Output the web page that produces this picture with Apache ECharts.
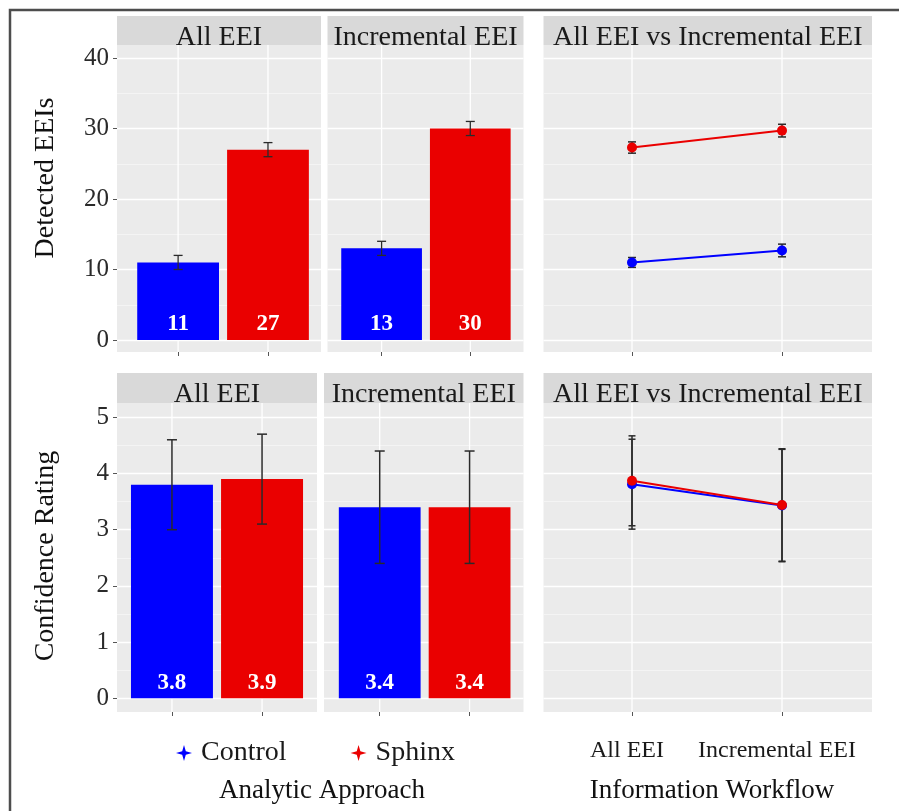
<!DOCTYPE html>
<html><head><meta charset="utf-8">
<script src="https://cdn.jsdelivr.net/npm/echarts@6.0.0/dist/echarts.min.js"></script>
<style>html,body{margin:0;padding:0;background:#fff}#chart{width:899px;height:811px}</style>
</head><body><div id="chart"></div>
<script>
// ---------------- data ----------------
const groups = ['Control', 'Sphinx'];
const workflows = ['All EEI', 'Incremental EEI'];
const panelTitles = ['All EEI', 'Incremental EEI', 'All EEI vs Incremental EEI'];
const rowTitles = ['Detected EEIs', 'Confidence Rating'];
const xTitles = ['Analytic Approach', 'Information Workflow'];
const detectedTicks = [0, 10, 20, 30, 40];
const confidenceTicks = [0, 1, 2, 3, 4, 5];

// Detected EEIs (bars: [Control, Sphinx])
const detectedAllEEI = [11, 27];
const detectedAllEEIErr = [1, 1];
const detectedIncrementalEEI = [13, 30];
const detectedIncrementalEEIErr = [1, 1];
// Detected EEIs by workflow (lines: [All EEI, Incremental EEI])
const detectedControlWorkflow = [11.0, 12.7];
const detectedControlWorkflowErr = [0.7, 0.9];
const detectedSphinxWorkflow = [27.3, 29.7];
const detectedSphinxWorkflowErr = [0.8, 0.9];

// Confidence Rating
const confidenceAllEEI = [3.8, 3.9];
const confidenceAllEEIErr = [0.8, 0.8];
const confidenceIncrementalEEI = [3.4, 3.4];
const confidenceIncrementalEEIErr = [1.0, 1.0];
const confidenceControlWorkflow = [3.81, 3.43];
const confidenceControlWorkflowErr = [0.8, 1.0];
const confidenceSphinxWorkflow = [3.87, 3.44];
const confidenceSphinxWorkflowErr = [0.8, 1.0];

// ---------------- layout / style ----------------
const FONT = '"Liberation Serif", "Times New Roman", serif';
const COLORS = { Control: '#0000FF', Sphinx: '#EA0000' };
const rows = [
  { strip: [16, 45], panel: [45, 352], data: [58, 340], ticks: detectedTicks, cap: 4.5, errW: 1.3, lineCap: 4, digits: 0 },
  { strip: [373, 403], panel: [403, 712], data: [417.3, 698.3], ticks: confidenceTicks, cap: 5, errW: 1.5, lineCap: 3.5, digits: 1 }
];
const cols = [
  [{ x: [117, 321], xr: [0.32, 2.59] }, { x: [327.5, 523.5], xr: [0.39, 2.6] }, { x: [543.5, 872], xr: [0.41, 2.6] }],
  [{ x: [117, 317], xr: [0.39, 2.61] }, { x: [324, 523.5], xr: [0.38, 2.6] }, { x: [543.5, 872], xr: [0.41, 2.6] }]
];
const panelData = [
  [
    { type: 'bar', vals: detectedAllEEI, errs: detectedAllEEIErr },
    { type: 'bar', vals: detectedIncrementalEEI, errs: detectedIncrementalEEIErr },
    { type: 'line', lines: { Control: [detectedControlWorkflow, detectedControlWorkflowErr], Sphinx: [detectedSphinxWorkflow, detectedSphinxWorkflowErr] } }
  ],
  [
    { type: 'bar', vals: confidenceAllEEI, errs: confidenceAllEEIErr },
    { type: 'bar', vals: confidenceIncrementalEEI, errs: confidenceIncrementalEEIErr },
    { type: 'line', lines: { Control: [confidenceControlWorkflow, confidenceControlWorkflowErr], Sphinx: [confidenceSphinxWorkflow, confidenceSphinxWorkflowErr] } }
  ]
];
const xPos = [1, 2];

function vLineRender(params, api) {
  const cs = params.coordSys;
  const x = api.coord([api.value(0), 0])[0];
  return { type: 'line', silent: true,
    shape: { x1: x, y1: cs.y, x2: x, y2: cs.y + cs.height },
    style: { stroke: '#FFFFFF', lineWidth: 1.3 } };
}
function errRender(capHalf, color, lw) {
  return function (params, api) {
    const x = api.value(0);
    const lo = api.coord([x, api.value(1)]);
    const hi = api.coord([x, api.value(2)]);
    const style = { stroke: color, lineWidth: lw };
    return { type: 'group', children: [
      { type: 'line', shape: { x1: lo[0], y1: lo[1], x2: hi[0], y2: hi[1] }, style },
      { type: 'line', shape: { x1: lo[0] - capHalf, y1: lo[1], x2: lo[0] + capHalf, y2: lo[1] }, style },
      { type: 'line', shape: { x1: hi[0] - capHalf, y1: hi[1], x2: hi[0] + capHalf, y2: hi[1] }, style }
    ] };
  };
}

const grid = [], xAxis = [], yAxis = [], series = [], graphic = [];

graphic.push({ type: 'rect', silent: true, z: -10,
  shape: { x: 10, y: 10, width: 900, height: 820 },
  style: { fill: 'none', stroke: '#4d4d4d', lineWidth: 2.5 } });

rows.forEach((row, r) => {
  cols[r].forEach((col, c) => {
    const left = col.x[0], width = col.x[1] - col.x[0];
    // strip
    graphic.push({ type: 'rect', silent: true,
      shape: { x: left, y: row.strip[0], width: width, height: row.strip[1] - row.strip[0] },
      style: { fill: '#D9D9D9' } });
    graphic.push({ type: 'text', silent: true, x: left + width / 2, y: row.strip[0] + 21.5,
      style: { text: panelTitles[c], fill: '#1a1a1a', fontSize: 28, fontFamily: FONT, align: 'center', verticalAlign: 'middle' } });

    // background panel grid (full panel extent)
    const gi = grid.length;
    grid.push({ left: left, width: width, top: row.panel[0], height: row.panel[1] - row.panel[0],
      show: true, backgroundColor: '#EBEBEB', borderWidth: 0 });
    xAxis.push({ gridIndex: gi, type: 'value', min: col.xr[0], max: col.xr[1],
      axisLine: { show: false }, splitLine: { show: false },
      axisTick: { show: true, customValues: xPos, length: 4, lineStyle: { color: '#555', width: 1 } },
      axisLabel: { show: r === 1 && c === 2, customValues: xPos, margin: 27, padding: [0, 10, 0, 0],
        formatter: v => workflows[Math.round(v) - 1], fontSize: 24, fontFamily: FONT, color: '#1a1a1a' } });
    yAxis.push({ gridIndex: gi, type: 'value', min: 0, max: 1, show: false });
    series.push({ type: 'custom', name: 'panel-grid', xAxisIndex: gi, yAxisIndex: gi, silent: true, z: 1,
      data: xPos.map(v => [v]), renderItem: vLineRender });

    // data grid (value range of the y axis)
    const di = grid.length;
    grid.push({ left: left, width: width, top: row.data[0], height: row.data[1] - row.data[0], show: false });
    xAxis.push({ gridIndex: di, type: 'value', min: col.xr[0], max: col.xr[1], show: false });
    yAxis.push({ gridIndex: di, type: 'value',
      min: row.ticks[0], max: row.ticks[row.ticks.length - 1], interval: row.ticks[1] - row.ticks[0],
      axisLine: { show: false },
      axisTick: { show: c === 0, length: 4, lineStyle: { color: '#555' } },
      axisLabel: { show: c === 0, fontSize: 25, fontFamily: FONT, color: '#2a2a2a', margin: 8 },
      splitLine: { show: true, showMinLine: true, showMaxLine: true, lineStyle: { color: '#FFFFFF', width: 1.3 } },
      minorTick: { show: false, splitNumber: 2 },
      minorSplitLine: { show: true, lineStyle: { color: '#F8F8F8', width: 0.7 } } });

    const pd = panelData[r][c];
    const unit = width / (col.xr[1] - col.xr[0]);
    if (pd.type === 'bar') {
      groups.forEach((g, k) => {
        series.push({ type: 'bar', name: g, xAxisIndex: di, yAxisIndex: di, z: 2,
          barWidth: 0.91 * unit, barGap: '-100%',
          itemStyle: { color: COLORS[g] },
          label: { show: true, position: 'insideBottom', distance: 4, color: '#FFFFFF', fontWeight: 'bold',
            fontSize: 23, fontFamily: FONT, formatter: p => p.value[1].toFixed(row.digits) },
          data: [[xPos[k], pd.vals[k]]] });
      });
      series.push({ type: 'custom', name: 'err', xAxisIndex: di, yAxisIndex: di, z: 4, silent: true,
        encode: { x: 0, y: [1, 2] },
        data: groups.map((g, k) => [xPos[k], pd.vals[k] - pd.errs[k], pd.vals[k] + pd.errs[k]]),
        renderItem: errRender(row.cap, '#2a2a2a', row.errW) });
    } else {
      groups.forEach(g => {
        const [vals, errs] = pd.lines[g];
        series.push({ type: 'custom', name: 'err', xAxisIndex: di, yAxisIndex: di, z: 3, silent: true,
          encode: { x: 0, y: [1, 2] },
          data: vals.map((v, k) => [xPos[k], v - errs[k], v + errs[k]]),
          renderItem: errRender(row.lineCap, '#2a2a2a', 1.5) });
      });
      groups.forEach(g => {
        const [vals] = pd.lines[g];
        series.push({ type: 'line', name: g, xAxisIndex: di, yAxisIndex: di, z: 5,
          symbol: 'circle', symbolSize: 10,
          itemStyle: { color: COLORS[g] }, lineStyle: { color: COLORS[g], width: 2 },
          data: vals.map((v, k) => [xPos[k], v]) });
      });
    }
  });
});

// axis titles
graphic.push({ type: 'text', silent: true, x: 46, y: 178, rotation: Math.PI / 2,
  style: { text: rowTitles[0], fill: '#111', fontSize: 28, fontFamily: FONT, align: 'center', verticalAlign: 'middle' } });
graphic.push({ type: 'text', silent: true, x: 46, y: 556, rotation: Math.PI / 2,
  style: { text: rowTitles[1], fill: '#111', fontSize: 28, fontFamily: FONT, align: 'center', verticalAlign: 'middle' } });
graphic.push({ type: 'text', silent: true, x: 322, y: 791,
  style: { text: xTitles[0], fill: '#111', fontSize: 27, fontFamily: FONT, align: 'center', verticalAlign: 'middle' } });
graphic.push({ type: 'text', silent: true, x: 712, y: 791,
  style: { text: xTitles[1], fill: '#111', fontSize: 27, fontFamily: FONT, align: 'center', verticalAlign: 'middle' } });

const option = {
  animation: false,
  backgroundColor: '#FFFFFF',
  grid, xAxis, yAxis, series, graphic,
  legend: {
    data: groups, left: 171, top: 734, itemWidth: 16, itemHeight: 16, itemGap: 64,
    icon: 'path://M8,0 L9.8,6.2 L16,8 L9.8,9.8 L8,16 L6.2,9.8 L0,8 L6.2,6.2 Z',
    selectedMode: false,
    textStyle: { fontSize: 28, fontFamily: FONT, color: '#1a1a1a', padding: [0, 0, 0, 4] }
  }
};
const chart = echarts.init(document.getElementById('chart'), null, { renderer: 'canvas' });
chart.setOption(option);
</script></body></html>
